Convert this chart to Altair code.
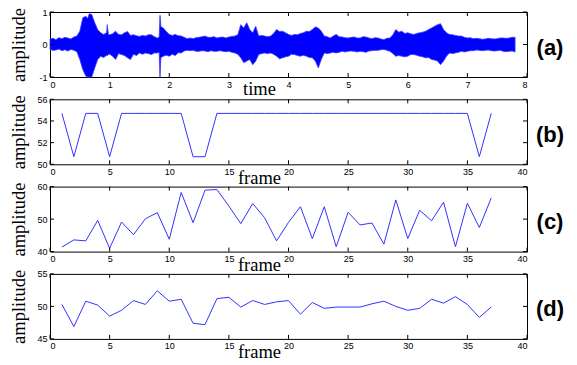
import altair as alt
import pandas as pd

# ---- panel (a): waveform envelope ----
wave_t = [0.00, 0.05, 0.10, 0.15, 0.20, 0.25, 0.30, 0.35, 0.40, 0.45, 0.50, 0.55, 0.60, 0.63, 0.66,
          0.70, 0.75, 0.80, 0.85, 0.90, 0.95, 0.96, 0.98, 1.00, 1.05, 1.10, 1.15, 1.20, 1.25, 1.30,
          1.35, 1.40, 1.45, 1.50, 1.55, 1.60, 1.65, 1.70, 1.75, 1.80, 1.83, 1.845, 1.86, 1.90, 1.95,
          2.00, 2.05, 2.10, 2.15, 2.20, 2.25, 2.30, 2.35, 2.40, 2.45, 2.50, 2.55, 2.60, 2.65, 2.70,
          2.75, 2.80, 2.85, 2.90, 2.95, 3.00, 3.05, 3.10, 3.15, 3.20, 3.25, 3.30, 3.35, 3.40, 3.45,
          3.50, 3.55, 3.60, 3.65, 3.70, 3.75, 3.80, 3.85, 3.90, 3.95, 4.00, 4.05, 4.10, 4.15, 4.20,
          4.25, 4.30, 4.35, 4.40, 4.45, 4.50, 4.55, 4.60, 4.65, 4.70, 4.75, 4.80, 4.85, 4.90, 4.95,
          5.00, 5.05, 5.10, 5.15, 5.20, 5.25, 5.30, 5.35, 5.40, 5.45, 5.50, 5.55, 5.60, 5.65, 5.70,
          5.75, 5.80, 5.85, 5.90, 5.95, 6.00, 6.05, 6.10, 6.15, 6.20, 6.25, 6.30, 6.35, 6.40, 6.45,
          6.50, 6.55, 6.60, 6.65, 6.70, 6.75, 6.80, 6.85, 6.90, 6.95, 7.00, 7.05, 7.10, 7.15, 7.20,
          7.25, 7.30, 7.35, 7.40, 7.45, 7.50, 7.55, 7.60, 7.65, 7.70, 7.75, 7.80]
wave_hi = [0.17, 0.19, 0.15, 0.21, 0.18, 0.22, 0.20, 0.17, 0.23, 0.26, 0.41, 0.82, 0.87, 0.80, 0.95,
           0.92, 0.67, 0.46, 0.36, 0.31, 0.36, 0.61, 0.30, 0.30, 0.33, 0.41, 0.31, 0.30, 0.36, 0.40,
           0.28, 0.30, 0.27, 0.25, 0.28, 0.26, 0.30, 0.30, 0.24, 0.20, 0.22, 0.90, 0.55, 0.51, 0.40,
           0.31, 0.28, 0.31, 0.27, 0.26, 0.22, 0.18, 0.20, 0.18, 0.21, 0.22, 0.24, 0.26, 0.22, 0.22,
           0.24, 0.20, 0.22, 0.23, 0.20, 0.23, 0.25, 0.26, 0.30, 0.61, 0.51, 0.67, 0.46, 0.36, 0.56,
           0.26, 0.28, 0.26, 0.24, 0.26, 0.34, 0.46, 0.40, 0.41, 0.36, 0.31, 0.28, 0.31, 0.30, 0.34,
           0.36, 0.41, 0.40, 0.46, 0.54, 0.51, 0.41, 0.26, 0.24, 0.20, 0.26, 0.31, 0.24, 0.23, 0.21,
           0.20, 0.22, 0.23, 0.20, 0.20, 0.24, 0.23, 0.20, 0.18, 0.21, 0.20, 0.17, 0.15, 0.19, 0.20,
           0.30, 0.46, 0.38, 0.41, 0.34, 0.36, 0.33, 0.31, 0.34, 0.36, 0.38, 0.41, 0.46, 0.51, 0.56,
           0.61, 0.64, 0.46, 0.36, 0.31, 0.30, 0.28, 0.26, 0.26, 0.22, 0.20, 0.21, 0.18, 0.19, 0.18,
           0.16, 0.17, 0.19, 0.18, 0.17, 0.18, 0.20, 0.20, 0.19, 0.20, 0.22, 0.22]
wave_lo = [-0.15, -0.18, -0.17, -0.14, -0.19, -0.16, -0.20, -0.15, -0.18, -0.22, -0.46, -0.77, -0.97, -1.00, -1.00,
           -1.00, -0.72, -0.46, -0.36, -0.40, -0.33, -0.35, -0.30, -0.30, -0.36, -0.46, -0.28, -0.31, -0.34, -0.41,
           -0.46, -0.30, -0.34, -0.26, -0.30, -0.26, -0.28, -0.31, -0.26, -0.26, -0.24, -1.00, -0.40, -0.36, -0.33,
           -0.36, -0.30, -0.34, -0.25, -0.26, -0.20, -0.18, -0.19, -0.18, -0.21, -0.21, -0.19, -0.20, -0.22, -0.19,
           -0.21, -0.21, -0.19, -0.21, -0.22, -0.21, -0.24, -0.26, -0.30, -0.41, -0.56, -0.51, -0.46, -0.62, -0.51,
           -0.31, -0.28, -0.26, -0.28, -0.26, -0.30, -0.36, -0.44, -0.41, -0.38, -0.36, -0.30, -0.31, -0.34, -0.36,
           -0.33, -0.36, -0.40, -0.41, -0.51, -0.72, -0.46, -0.26, -0.28, -0.26, -0.24, -0.26, -0.24, -0.21, -0.23,
           -0.21, -0.20, -0.21, -0.23, -0.21, -0.22, -0.24, -0.20, -0.19, -0.18, -0.18, -0.16, -0.15, -0.18, -0.21,
           -0.28, -0.36, -0.34, -0.36, -0.38, -0.36, -0.31, -0.31, -0.33, -0.36, -0.38, -0.41, -0.40, -0.46, -0.48,
           -0.51, -0.62, -0.51, -0.36, -0.26, -0.28, -0.26, -0.24, -0.21, -0.23, -0.21, -0.19, -0.19, -0.17, -0.18,
           -0.19, -0.18, -0.17, -0.19, -0.20, -0.19, -0.18, -0.21, -0.22, -0.21, -0.20, -0.23]

# ---- panels (b)-(d): per-frame values ----
frames = list(range(1, 38))
b_vals = [54.7, 50.7, 54.7, 54.7, 50.7, 54.7, 54.7, 54.7, 54.7, 54.7, 54.7, 50.7, 50.7, 54.7, 54.7,
          54.7, 54.7, 54.7, 54.7, 54.7, 54.7, 54.7, 54.7, 54.7, 54.7, 54.7, 54.7, 54.7, 54.7, 54.7,
          54.7, 54.7, 54.7, 54.7, 54.7, 50.7, 54.7]
c_vals = [41.4, 43.6, 43.3, 49.6, 41.0, 49.1, 45.2, 50.1, 52.0, 43.8, 58.2, 48.9, 58.9, 59.1, 54.0,
          48.6, 54.8, 50.4, 43.3, 49.0, 53.8, 44.0, 53.8, 41.5, 52.1, 48.2, 48.8, 42.3, 55.9, 44.0,
          52.7, 49.5, 55.2, 41.5, 54.9, 47.4, 56.5]
d_vals = [50.3, 46.9, 50.8, 50.2, 48.5, 49.4, 50.9, 50.3, 52.4, 50.8, 51.1, 47.4, 47.2, 51.2, 51.4,
          49.9, 50.9, 50.3, 50.7, 50.9, 48.8, 50.6, 49.7, 49.9, 49.9, 49.9, 50.4, 50.8, 50.0, 49.4,
          49.7, 51.1, 50.5, 51.5, 50.3, 48.3, 49.9]

time_ticks = [0, 1, 2, 3, 4, 5, 6, 7, 8]
frame_ticks = [0, 5, 10, 15, 20, 25, 30, 35, 40]

W, H = 477, 65
TL = 4  # inward tick length

def panel(base, xdom, xticks, ydom, yticks, xtitle, xtitle_y, label):
    xenc = alt.X("x:Q", scale=alt.Scale(domain=xdom, nice=False, zero=False),
                 axis=alt.Axis(values=xticks, title=xtitle, titleX=209, titleY=xtitle_y,
                               titleAlign="center", titleBaseline="alphabetic", format="~g"))
    yenc = alt.Y("y:Q", scale=alt.Scale(domain=ydom, nice=False, zero=False),
                 axis=alt.Axis(values=yticks, title="amplitude", titleX=-26, titleY=H / 2,
                               titleAlign="center", titleBaseline="alphabetic", titleAngle=270,
                               format="~g",
                               labelExpr="replace(datum.label, '\u2212', '-')"))
    xt = pd.DataFrame({"x": xticks})
    yt = pd.DataFrame({"y": yticks})
    tick_style = dict(color="black", strokeWidth=1)
    layers = [base(xenc, yenc),
              alt.Chart(xt).mark_rule(**tick_style).encode(x=xenc, y=alt.value(0), y2=alt.value(TL)),
              alt.Chart(xt).mark_rule(**tick_style).encode(x=xenc, y=alt.value(H - TL), y2=alt.value(H)),
              alt.Chart(yt).mark_rule(**tick_style).encode(y=yenc, x=alt.value(0), x2=alt.value(TL)),
              alt.Chart(yt).mark_rule(**tick_style).encode(y=yenc, x=alt.value(W - TL), x2=alt.value(W)),
              alt.Chart(pd.DataFrame({"t": [label]})).mark_text(
                  font="Liberation Sans", fontSize=22, fontWeight="bold", align="center",
                  baseline="middle", color="black").encode(x=alt.value(500), y=alt.value(35.5), text="t:N")]
    return alt.layer(*layers).properties(width=W, height=H)

wave_df = pd.DataFrame({"x": wave_t, "y": wave_hi, "y2": wave_lo})

def wave_base(xenc, yenc):
    return alt.Chart(wave_df).mark_area(color="#0000ff", stroke="#3a3aff", strokeWidth=0.8,
                                        opacity=1).encode(x=xenc, y=yenc, y2="y2:Q")

def line_base(vals):
    df = pd.DataFrame({"x": frames, "y": vals})
    def f(xenc, yenc):
        return alt.Chart(df).mark_line(color="#3333ff", strokeWidth=1).encode(x=xenc, y=yenc)
    return f

pa = panel(wave_base, [0, 8], time_ticks, [-1, 1], [-1, 0, 1], "time", 17, "(a)")
pb = panel(line_base(b_vals), [0, 40], frame_ticks, [50, 56], [50, 52, 54, 56], "frame", 19, "(b)")
pc = panel(line_base(c_vals), [0, 40], frame_ticks, [40, 60], [40, 50, 60], "frame", 19, "(c)")
pd_ = panel(line_base(d_vals), [0, 40], frame_ticks, [45, 55], [45, 50, 55], "frame", 19, "(d)")

chart = alt.vconcat(pa, pb, pc, pd_, spacing=22.3, bounds="flush").properties(
    padding={"left": 0, "top": -1, "right": 0, "bottom": 0},
    background="white"
).configure_view(stroke="black", strokeWidth=1).configure_axis(
    domain=False, ticks=False, grid=False,
    labelFont="Liberation Sans", labelFontSize=9, labelColor="black", labelPadding=3,
    titleFont="Liberation Serif", titleFontSize=18.5, titleFontWeight="normal", titleColor="black"
)

chart.save("out.html", embed_options={"renderer": "svg", "actions": False})
